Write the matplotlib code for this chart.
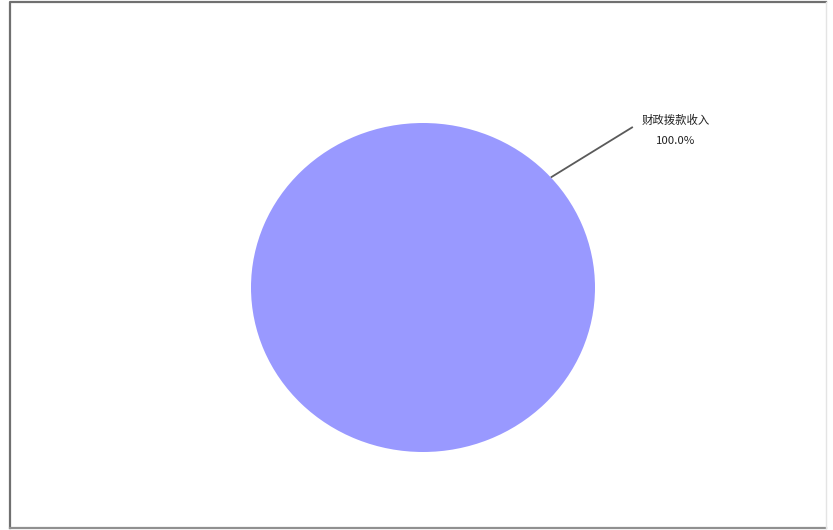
import numpy as np
import matplotlib.pyplot as plt
from matplotlib.patches import Rectangle
from matplotlib.lines import Line2D

plt.rcParams['font.family'] = ['Noto Sans CJK SC', 'DejaVu Sans']

# data
labels = ['财政拨款收入']
values = [100.0]
colors = ['#9999FF']

W, H = 833, 530
fig = plt.figure(figsize=(W / 100, H / 100), dpi=100)
fig.patch.set_facecolor('white')

# frame around the whole picture: dark left/top/bottom, faint right
fig.lines.append(Line2D([10 / W, 10 / W, 826 / W], [2 / H, 528 / H, 528 / H],
                        transform=fig.transFigure, color='#707070', lw=1.6))
fig.lines.append(Line2D([10 / W, 826 / W], [2 / H, 2 / H],
                        transform=fig.transFigure, color='#909090', lw=1.6))
fig.lines.append(Line2D([826 / W, 826 / W], [2 / H, 528 / H],
                        transform=fig.transFigure, color='#e4e4e4', lw=1.0))

# pie area (slightly squashed vertically like the original)
ax = fig.add_axes([251 / W, 78 / H, 344 / W, 329 / H])
start = -138
wedges, _ = ax.pie(values, colors=colors, startangle=start, radius=1,
                   wedgeprops=dict(linewidth=0))
ax.set_aspect('auto')
ax.set_xlim(-1, 1)
ax.set_ylim(-1, 1)
ax.axis('off')

total = sum(values)
for w, lab, v in zip(wedges, labels, values):
    mid = np.deg2rad((w.theta1 + w.theta2) / 2)
    x0, y0 = np.cos(mid), np.sin(mid)
    ax.plot([x0, 1.22], [y0, 0.976], color='#5a5a5a', lw=1.3,
            clip_on=False, solid_capstyle='butt')
    ax.text(1.47, 1.018, lab, ha='center', va='center', fontsize=8.2,
            color='#222222')
    ax.text(1.47, 0.89, f'{v / total * 100:.1f}%', ha='center',
            va='center', fontsize=8.2, color='#222222')

fig.savefig('out.png', dpi=100)
